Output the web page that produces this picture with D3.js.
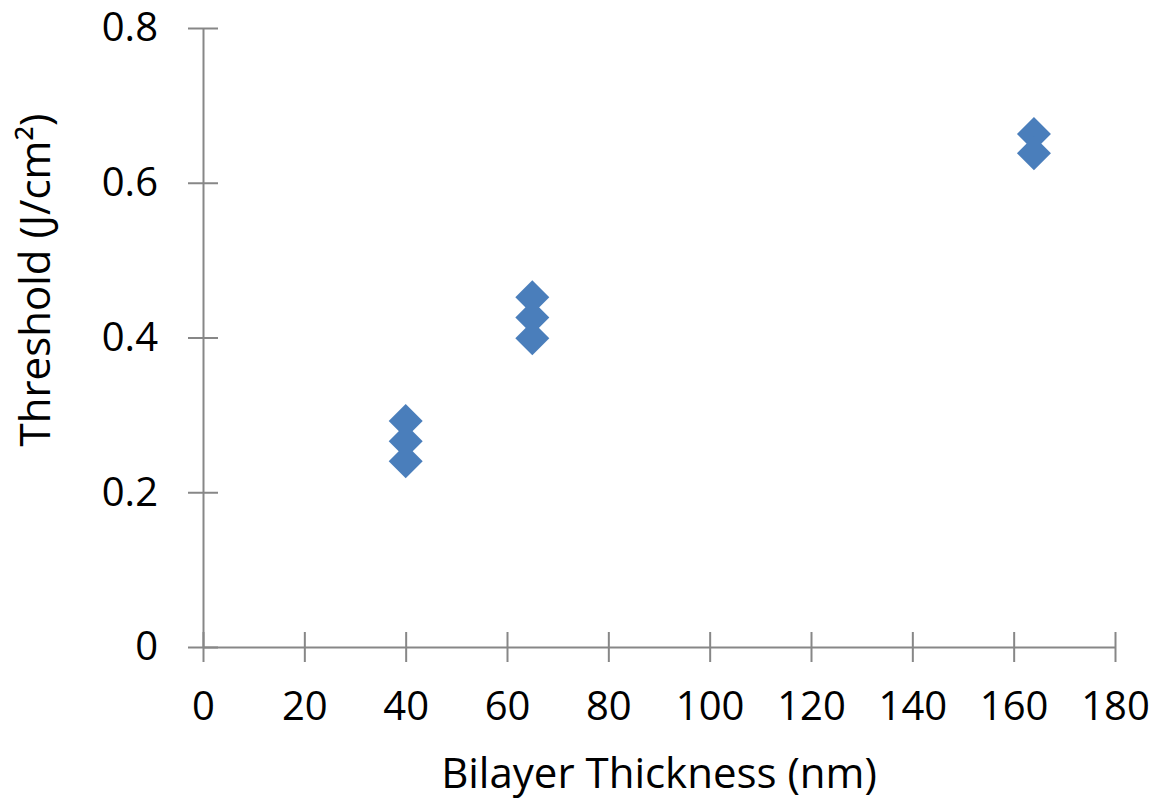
<!DOCTYPE html>
<html>
<head>
<meta charset="utf-8">
<script src="https://cdn.jsdelivr.net/npm/d3@7"></script>
<style>
  body { margin: 0; background: #fff; }
  text { font-family: "Open Sans", sans-serif; fill: #000; }
</style>
</head>
<body>
<div id="chart"></div>
<script>
// Data
const thickness = [40, 40, 40, 65, 65, 65, 164, 164];
const threshold = [0.292, 0.266, 0.240, 0.452, 0.426, 0.399, 0.663, 0.638];
const xTicks = [0, 20, 40, 60, 80, 100, 120, 140, 160, 180];
const yTicks = [0, 0.2, 0.4, 0.6, 0.8];

const width = 1154;
const height = 800;
const margin = { left: 203, right: 39, top: 28, bottom: 153 };

const svg = d3
  .select("#chart")
  .append("svg")
  .attr("width", width)
  .attr("height", height);

const x = d3
  .scaleLinear()
  .domain([0, 180])
  .range([margin.left, width - margin.right]);

const y = d3
  .scaleLinear()
  .domain([0, 0.8])
  .range([height - margin.bottom, margin.top]);

const axisColor = "#878787";

// X axis with ticks crossing the line
const xAxis = svg
  .append("g")
  .attr("transform", `translate(0, ${y(0)})`)
  .call(d3.axisBottom(x).tickValues(xTicks).tickSize(15).tickSizeOuter(0).tickPadding(30));
xAxis.select(".domain").attr("stroke", axisColor).attr("stroke-width", 2);
xAxis.selectAll(".tick line").attr("stroke", axisColor).attr("stroke-width", 2).attr("y1", -15);
xAxis.selectAll(".tick text").attr("font-size", "40px").attr("font-family", "Open Sans");

// Y axis
const yAxis = svg
  .append("g")
  .attr("transform", `translate(${x(0)}, 0)`)
  .call(d3.axisLeft(y).tickValues(yTicks).tickFormat(d3.format("")).tickSize(15).tickSizeOuter(0).tickPadding(30));
yAxis.select(".domain").attr("stroke", axisColor).attr("stroke-width", 2);
yAxis.selectAll(".tick line").attr("stroke", axisColor).attr("stroke-width", 2).attr("x1", 15);
yAxis.selectAll(".tick text").attr("font-size", "40px").attr("font-family", "Open Sans");

// Diamond markers
const diamond = d3.symbol().type(d3.symbolSquare).size(2 * 17 * 17);
svg
  .append("g")
  .selectAll("path.pt")
  .data(thickness)
  .enter()
  .append("path")
  .attr("class", "pt")
  .attr("d", diamond)
  .attr("transform", (d, i) => `translate(${x(d)}, ${y(threshold[i])}) rotate(45)`)
  .attr("fill", "#4a7ebb");

// Axis titles
svg
  .append("text")
  .attr("x", (x(0) + x(180)) / 2)
  .attr("y", 788)
  .attr("text-anchor", "middle")
  .attr("font-size", "42px")
  .text("Bilayer Thickness (nm)");

svg
  .append("text")
  .attr("transform", `translate(50, 280) rotate(-90)`)
  .attr("text-anchor", "middle")
  .attr("font-size", "42px")
  .text("Threshold (J/cm²)");
</script>
</body>
</html>
